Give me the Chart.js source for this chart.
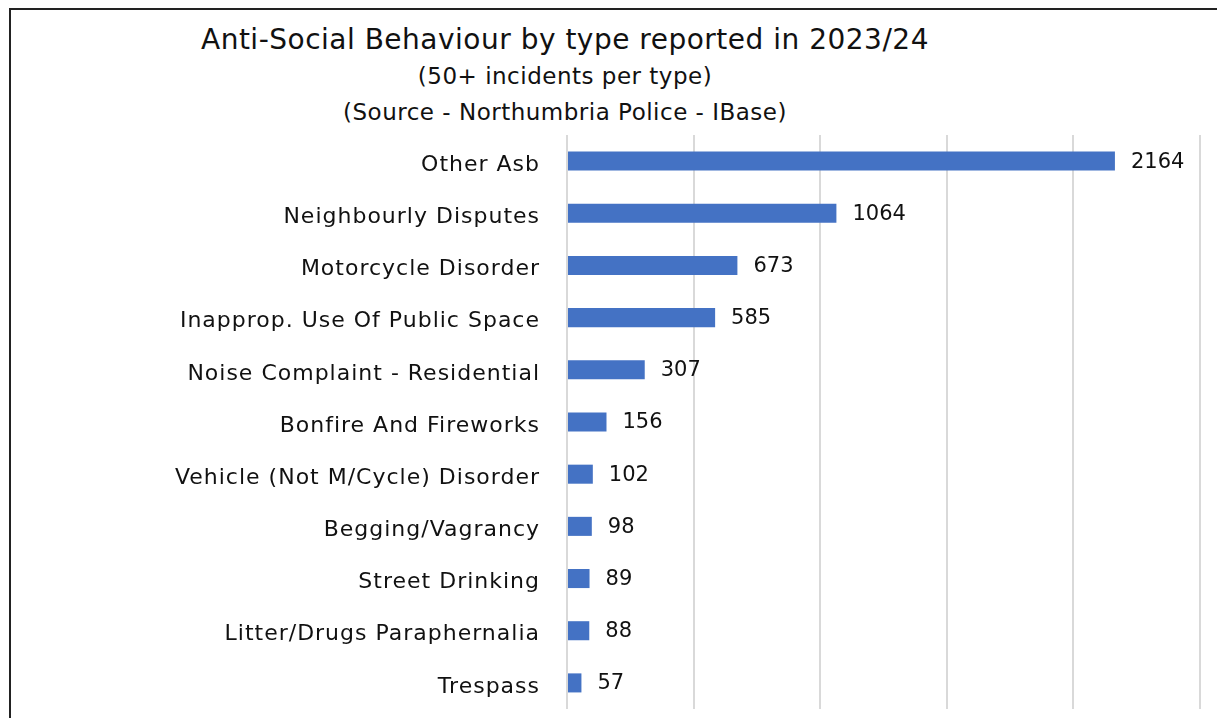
<!DOCTYPE html>
<html lang="en">
<head>
  <meta charset="UTF-8" />
  <title>Anti-Social Behaviour by type</title>
  <script src="https://cdn.jsdelivr.net/npm/chart.js"></script>
  <style>
    html, body { margin: 0; padding: 0; background: #fff; overflow: hidden; }
    body { width: 1217px; height: 718px; position: relative; font-family: 'DejaVu Sans', sans-serif; color: #111; }
    #frame {
      position: absolute; left: 9px; top: 8px; width: 1240px; height: 740px;
      border-left: 2px solid #222; border-top: 2px solid #222;
    }
    .ttl { position: absolute; left: 0; width: 1130px; text-align: center; white-space: nowrap; }
    #t1 { top: 23px; font-size: 28px; letter-spacing: 0.5px; }
    #t2 { top: 63px; font-size: 23px; letter-spacing: 0.5px; }
    #t3 { top: 99px; font-size: 23px; letter-spacing: 0.5px; }
    #asbChart { position: absolute; left: 11px; top: 10px; }
  </style>
</head>
<body>
  <div id="frame"></div>
  <div class="ttl" id="t1">Anti-Social Behaviour by type reported in 2023/24</div>
  <div class="ttl" id="t2">(50+ incidents per type)</div>
  <div class="ttl" id="t3">(Source - Northumbria Police - IBase)</div>
  <canvas id="asbChart" width="1206" height="708"></canvas>

  <script>
    const categories = [
      "Other Asb",
      "Neighbourly Disputes",
      "Motorcycle Disorder",
      "Inapprop. Use Of Public Space",
      "Noise Complaint - Residential",
      "Bonfire And Fireworks",
      "Vehicle (Not M/Cycle) Disorder",
      "Begging/Vagrancy",
      "Street Drinking",
      "Litter/Drugs Paraphernalia",
      "Trespass"
    ];
    const incidents = [2164, 1064, 673, 585, 307, 156, 102, 98, 89, 88, 57];

    // a bit of letter spacing so the category names come out as wide as the original
    const spacing = {
      id: "spacing",
      beforeDraw(chart) { chart.ctx.letterSpacing = "1px"; },
      beforeDatasetsDraw(chart) { chart.ctx.letterSpacing = "0px"; }
    };

    // value labels at the end of each bar
    const valueLabels = {
      id: "valueLabels",
      afterDatasetsDraw(chart) {
        const ctx = chart.ctx;
        const meta = chart.getDatasetMeta(0);
        ctx.save();
        ctx.letterSpacing = "0px";
        ctx.font = "21px 'DejaVu Sans'";
        ctx.fillStyle = "#111";
        ctx.textBaseline = "middle";
        ctx.textAlign = "left";
        meta.data.forEach((bar, i) => {
          ctx.fillText(String(chart.data.datasets[0].data[i]), bar.x + 16, bar.y + 1);
        });
        ctx.restore();
      }
    };

    new Chart(document.getElementById("asbChart"), {
      type: "bar",
      data: {
        labels: categories,
        datasets: [{
          label: "Incidents",
          data: incidents,
          backgroundColor: "#4472C4",
          barPercentage: 0.73,
          categoryPercentage: 0.5
        }]
      },
      options: {
        indexAxis: "y",
        responsive: false,
        animation: false,
        layout: { padding: { top: 125, right: 17, bottom: 9, left: 0 } },
        plugins: {
          legend: { display: false },
          tooltip: { enabled: false }
        },
        scales: {
          x: {
            min: 0,
            max: 2500,
            afterFit: (scale) => { scale.height = 0; },
            ticks: { display: false, stepSize: 500 },
            grid: { color: "#d9d9d9", lineWidth: 2, drawTicks: false },
            border: { display: false }
          },
          y: {
            afterFit: (scale) => {
              scale.width = 556;
              scale.paddingTop = 0;
              scale.paddingBottom = 0;
            },
            ticks: {
              color: "#111",
              padding: 27,
              labelOffset: 4,
              font: { family: "'DejaVu Sans'", size: 22 }
            },
            grid: { display: false, drawTicks: false },
            border: { display: false }
          }
        }
      },
      plugins: [spacing, valueLabels]
    });
  </script>
</body>
</html>
